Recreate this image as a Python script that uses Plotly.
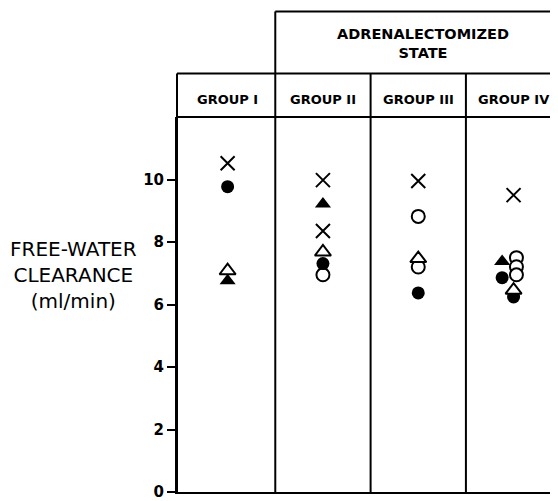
import plotly.graph_objects as go

# ---------------- data ----------------
groups = ["GROUP I", "GROUP II", "GROUP III", "GROUP IV"]
header_text = "ADRENALECTOMIZED<br>STATE"
y_title = "FREE-WATER<br>CLEARANCE<br>(ml/min)"
y_ticks = [0, 2, 4, 6, 8, 10]

# each marker type: group index, value (ml/min), small horizontal jitter within group
cross_group = [0, 1, 1, 2, 3]
cross_value = [10.52, 9.98, 8.35, 9.95, 9.50]
cross_jitter = [0, 0, 0, 0, 0]

fcirc_group = [0, 1, 2, 3, 3]
fcirc_value = [9.77, 7.31, 6.37, 6.86, 6.24]
fcirc_jitter = [0, 0, 0, -0.12, 0]

ocirc_group = [1, 2, 2, 3, 3, 3]
ocirc_value = [6.95, 8.82, 7.20, 7.50, 7.21, 6.95]
ocirc_jitter = [0, 0, 0, 0.03, 0.03, 0.03]

ftri_group = [0, 1, 3]
ftri_value = [6.76, 9.22, 7.38]
ftri_jitter = [0, 0, -0.12]

otri_group = [0, 1, 2, 3]
otri_value = [7.08, 7.68, 7.47, 6.46]
otri_jitter = [0, 0, 0, 0]

# ---------------- figure ----------------
# the page body adds an 8px offset; screen = figure + 8
OFF = 8
W, H = 558 - OFF, 501 - OFF
PLOT_L, PLOT_T, PLOT_B = 177, 117, 497          # screen pixels
L, R, T = PLOT_L - OFF, 0, PLOT_T - OFF
B = H - (PLOT_B - OFF)
plot_h = PLOT_B - PLOT_T
plot_w = 558 - PLOT_L

fig = go.Figure()

def xs(g, j):
    return [a + b for a, b in zip(g, j)]

# drawing order controls overlap (white-filled "open" symbols occlude)
fig.add_trace(go.Scatter(x=xs(ftri_group, ftri_jitter), y=ftri_value, mode="markers",
                         marker=dict(symbol="triangle-up", size=14, color="black",
                                     line=dict(width=0))))
fig.add_trace(go.Scatter(x=xs(ocirc_group, ocirc_jitter), y=ocirc_value, mode="markers",
                         marker=dict(symbol="circle", size=13, color="white",
                                     line=dict(width=2, color="black"))))
fig.add_trace(go.Scatter(x=xs(fcirc_group, fcirc_jitter), y=fcirc_value, mode="markers",
                         marker=dict(symbol="circle", size=13, color="black",
                                     line=dict(width=0))))
fig.add_trace(go.Scatter(x=xs(otri_group, otri_jitter), y=otri_value, mode="markers",
                         marker=dict(symbol="triangle-up", size=14, color="white",
                                     line=dict(width=2, color="black"))))
fig.add_trace(go.Scatter(x=xs(cross_group, cross_jitter), y=cross_value, mode="markers",
                         marker=dict(symbol="x-thin", size=14, color="black",
                                     line=dict(width=2, color="black"))))

def py(row):
    """screen pixel row -> paper y"""
    return (PLOT_B - row) / plot_h

def px(col):
    """screen pixel column -> paper x"""
    return (col - PLOT_L) / plot_w

y_head_mid = py(73)
y_head_top = py(10)

shapes = []
line_style = dict(color="black", width=2)
for i in range(len(groups) - 1):
    shapes.append(dict(type="line", xref="x", yref="paper", x0=i + 0.5, x1=i + 0.5,
                       y0=0, y1=y_head_mid, line=line_style))
shapes.append(dict(type="line", xref="paper", yref="paper", x0=0, x1=0,
                   y0=0, y1=y_head_mid, line=line_style))
shapes.append(dict(type="line", xref="paper", yref="paper", x0=0, x1=1.02,
                   y0=1, y1=1, line=line_style))
shapes.append(dict(type="line", xref="paper", yref="paper", x0=0, x1=1.02,
                   y0=y_head_mid, y1=y_head_mid, line=line_style))
shapes.append(dict(type="line", xref="x", yref="paper", x0=0.5, x1=0.5,
                   y0=y_head_mid, y1=y_head_top, line=line_style))
shapes.append(dict(type="line", xref="x", yref="paper", x0=0.5, x1=4,
                   y0=y_head_top, y1=y_head_top, line=line_style))

annotations = []
for i, g in enumerate(groups):
    annotations.append(dict(x=i, y=py(99), xref="x", yref="paper", text=g,
                            showarrow=False, xanchor="center", yanchor="middle",
                            font=dict(family="DejaVu Sans", size=13, color="black",
                                      weight="bold")))
annotations.append(dict(x=2.05, y=py(43), xref="x", yref="paper", text=header_text,
                        showarrow=False, xanchor="center", yanchor="middle",
                        font=dict(family="DejaVu Sans", size=14.5, color="black",
                                  weight="bold")))
annotations.append(dict(x=px(73), y=py(277), xref="paper", yref="paper",
                        text=y_title, showarrow=False, xanchor="center",
                        yanchor="middle", align="center",
                        font=dict(family="DejaVu Sans", size=20, color="black")))

fig.update_layout(
    width=W, height=H, autosize=False,
    margin=dict(l=L, r=R, t=T, b=B, pad=0),
    paper_bgcolor="white", plot_bgcolor="white",
    showlegend=False,
    shapes=shapes, annotations=annotations,
    xaxis=dict(range=[-0.531, 3.466], showgrid=False, zeroline=False,
               showticklabels=False, ticks="", showline=True, linecolor="black",
               linewidth=2, mirror=False),
    yaxis=dict(range=[0, 12], tickvals=y_ticks, ticktext=[str(v) for v in y_ticks],
               showgrid=False, zeroline=False, showline=True, linecolor="black",
               linewidth=2, ticks="outside", ticklen=8, tickwidth=2, tickcolor="black",
               ticklabeloverflow="allow",
               tickfont=dict(family="DejaVu Sans", size=15, color="black", weight="bold")),
)

fig.write_html("out.html")
